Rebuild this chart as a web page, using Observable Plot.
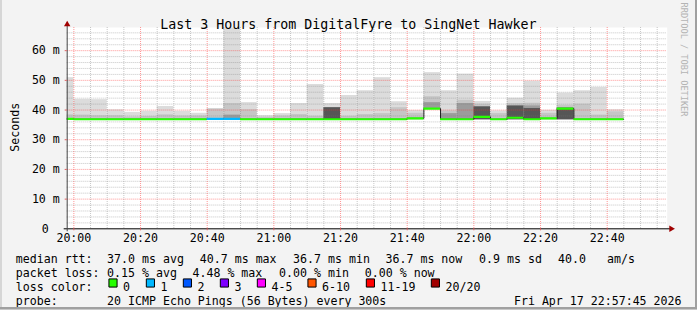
<!DOCTYPE html>
<html><head><meta charset="utf-8">
<script src="https://cdn.jsdelivr.net/npm/d3@7"></script>
<script src="https://cdn.jsdelivr.net/npm/@observablehq/plot@0.6"></script>
<style>
html,body{margin:0;padding:0;background:#f3f3f3;}
#wrap{position:relative;width:697px;height:310px;background:#f3f3f3;overflow:hidden;}
#wrap svg{display:block;}
.edge{position:absolute;}
</style></head><body><div id="wrap"></div>
<script>
// ---- data (ms) ----
const title = "Last 3 Hours from DigitalFyre to SingNet Hawker";
const day = "2026-04-17";
const starts = ["19:55","20:00","20:05","20:10","20:15","20:20","20:25","20:30","20:35","20:40","20:45","20:50","20:55","21:00","21:05","21:10","21:15","21:20","21:25","21:30","21:35","21:40","21:45","21:50","21:55","22:00","22:05","22:10","22:15","22:20","22:25","22:30","22:35","22:40"];
const pingMax = [50.9,43.6,43.5,40.1,39.2,39.6,41.2,39.6,38.9,40.5,67.6,42.5,38.1,38.8,42.2,48.6,42.2,44.9,46.5,50.9,42.8,39.8,52.6,46.5,52.1,42.9,39.7,44.0,49.7,39.9,45.7,46.5,47.6,40.1];
const pingHi  = [38.4,38.3,38.1,38.1,37.6,37.8,38.4,38.0,38.0,40.3,42.2,40.1,37.5,38.0,38.5,37.9,40.8,37.9,38.5,38.8,40.8,38.9,44.5,39.7,43.3,42.0,38.8,42.2,42.3,38.9,41.6,42.0,38.3,39.4];
const pingMid = [null,null,null,null,null,null,null,null,null,null,38.3,null,null,null,null,null,null,null,null,null,null,null,42.5,38.8,42.2,null,null,null,41.4,null,null,null,null,null];
const pingDark= [null,null,null,null,null,null,null,null,null,null,null,null,null,null,null,null,40.8,null,null,null,null,null,null,null,null,41.1,null,41.4,40.5,null,40.7,null,null,null];
const pingMin = [36.7,36.7,36.7,36.7,36.7,36.7,36.7,36.7,36.7,36.7,36.7,36.7,36.7,36.7,36.7,36.7,36.7,36.7,36.7,36.7,36.7,36.7,40.3,36.7,36.7,36.7,36.7,36.7,36.7,36.7,36.7,36.7,36.7,36.7];
const median  = [37.0,36.9,36.9,36.9,36.9,36.9,36.9,36.9,36.9,37.0,37.0,36.9,36.9,36.9,36.9,36.9,36.9,36.9,36.9,36.9,36.9,37.2,40.5,36.9,36.9,37.7,36.9,37.4,36.9,37.2,40.5,36.9,36.9,36.9];
const lossCount = [0,0,0,0,0,0,0,0,0,1,1,0,0,0,0,0,0,0,0,0,0,0,0,0,0,0,0,0,0,0,0,0,0,0];
const lossLabels = ["0","1","2","3","4-5","6-10","11-19","20/20"];
const lossColors = ["#26ff00","#00b8ff","#0059ff","#7e00ff","#ff00ff","#ff5500","#ff0000","#a10000"];
const yTicks = [10,20,30,40,50,60];
const xTickLabels = ["20:00","20:20","20:40","21:00","21:20","21:40","22:00","22:20","22:40"];
const statLines = [
  ["median rtt:", "37.0 ms avg", "40.7 ms max", "36.7 ms min", "36.7 ms now", "0.9 ms sd", "40.0", "am/s"],
  ["packet loss:", "0.15 % avg", "4.48 % max", "0.00 % min", "0.00 % now"]
];
const probeText = "20 ICMP Echo Pings (56 Bytes) every 300s";
const stamp = "Fri Apr 17 22:57:45 2026";

// ---- build ----
const T = s => new Date(`${day}T${s}:00Z`);
const tStart = T("19:58"), tEnd = T("22:58");
const bucket = l => l===0?0:l===1?1:l===2?2:l===3?3:l<=5?4:l<=10?5:l<=19?6:7;
const bars = starts.map((s,i)=>({
  t0:T(s), t1:d3.utcMinute.offset(T(s),5),
  max:pingMax[i], hi:pingHi[i], mid:pingMid[i], dk:pingDark[i], min:pingMin[i],
  med:median[i], loss:lossCount[i]
}));
const stepPts = bars.map(b=>({t:b.t0, v:b.med})).concat([{t:bars[bars.length-1].t1, v:bars[bars.length-1].med}]);

const ML = 66.7, MT = 27, MR = 697-666.7, MB = 310-228.3;
const FONT = "DejaVu Sans Mono, monospace";
const minorY = d3.range(2, 68, 2).filter(v=>v%10!==0);
const majorX = xTickLabels.map(T);
const minorX = d3.utcMinute.every(5).range(tStart, tEnd).filter(d=>d.getUTCMinutes()%20!==0);

function txt(str, x, y, o={}) {
  return Plot.text([str], {frameAnchor:"top-left", dx:x-ML, dy:y-MT, text:d=>d,
    textAnchor:o.anchor||"start", fontSize:o.size||11.6, fill:o.fill||"#000",
    rotate:o.rotate||0, fontFamily:FONT});
}

const marks = [
  Plot.frame({fill:"white", stroke:null}),
  Plot.rectY(bars, {x1:"t0", x2:"t1", y1:"min", y2:"max", fill:"#dcdcdc", clip:true}),
  Plot.rectY(bars.filter(b=>b.hi!=null), {x1:"t0", x2:"t1", y1:"min", y2:"hi", fill:"#c6c6c6", clip:true}),
  Plot.rectY(bars.filter(b=>b.mid!=null), {x1:"t0", x2:"t1", y1:"min", y2:"mid", fill:"#9c9c9c", clip:true}),
  Plot.rectY(bars.filter(b=>b.dk!=null), {x1:"t0", x2:"t1", y1:"min", y2:"dk", fill:"#565656", clip:true}),
  // grid
  Plot.ruleY(minorY, {stroke:"#7a7a7a", strokeOpacity:0.42, strokeDasharray:"1,1"}),
  Plot.ruleX(minorX, {stroke:"#7a7a7a", strokeOpacity:0.42, strokeDasharray:"1,1"}),
  Plot.ruleY(yTicks, {stroke:"#ff3030", strokeOpacity:0.5, strokeDasharray:"1,1"}),
  Plot.ruleX(majorX, {stroke:"#ff3030", strokeOpacity:0.5, strokeDasharray:"1,1"}),
  // median
  Plot.line(stepPts, {x:"t", y:"v", curve:"step-after", stroke:"#202020", strokeWidth:1, clip:true}),
  Plot.ruleY(bars, {y:"med", x1:"t0", x2:"t1", stroke:d=>lossColors[bucket(d.loss)], strokeWidth:2.2, clip:true}),
  // axes
  Plot.ruleY([0], {stroke:"#000", insetLeft:-3, insetRight:-4}),
  Plot.ruleX([tStart], {stroke:"#444", insetTop:-3, insetBottom:-3}),
  Plot.dot([0], {frameAnchor:"top-left", dy:-3, symbol:"triangle", r:2.4, fill:"#a00000", stroke:null}),
  Plot.dot([0], {frameAnchor:"bottom-right", dx:4, symbol:"triangle", rotate:90, r:2.4, fill:"#a00000", stroke:null}),
  Plot.axisX({ticks:majorX, tickFormat:d3.utcFormat("%H:%M"), tickSize:2, tickPadding:3.2, stroke:"#e06060", fill:"#000", fontSize:11.6, fontFamily:FONT, label:null}),
  Plot.axisY({ticks:yTicks, tickFormat:d=>`${d} m`, tickSize:2, tickPadding:5.4, stroke:"#e06060", fill:"#000", fontSize:11.6, fontFamily:FONT, label:null}),
  Plot.axisY({ticks:[0], tickFormat:()=>"0", tickSize:0, tickPadding:18.5, fill:"#000", fontSize:11.6, fontFamily:FONT, label:null}),
  // texts
  txt(title, 347.8, 19.3, {anchor:"middle", size:13.3}),
  txt("Seconds", 10, 126.7, {anchor:"middle", rotate:-90}),
  txt("RRDTOOL / TOBI OETIKER", 687, 59, {anchor:"middle", rotate:90, size:8.6, fill:"#b4b4b4"}),
];
const line1X = [15.3, 106.6, 199.3, 292.6, 385, 478.6, 557.6, 606.6];
statLines[0].forEach((s,i)=>marks.push(txt(s, line1X[i], 254.3)));
const line2X = [15.3, 106.6, 192, 278.6, 364.3];
statLines[1].forEach((s,i)=>marks.push(txt(s, line2X[i], 268.3)));
marks.push(txt("loss color:", 15.3, 282.3));
const boxX = [108.3, 145.7, 182.7, 219.7, 256.7, 307.3, 365.7, 430.7];
lossLabels.forEach((l,i)=>{
  marks.push(Plot.dot([0], {frameAnchor:"top-left", dx:boxX[i]+4.2-ML, dy:282.5-MT, symbol:"square", r:4.6, fill:lossColors[i], stroke:"#000", strokeWidth:1}));
  marks.push(txt(l, boxX[i]+14.3, 282.3));
});
marks.push(txt("probe:", 15.3, 296));
marks.push(txt(probeText, 106.6, 296));
marks.push(txt(stamp, 681, 296, {anchor:"end"}));

const chart = Plot.plot({
  width:697, height:310,
  marginLeft:ML, marginRight:MR, marginTop:MT, marginBottom:MB,
  style:{background:"transparent", fontFamily:FONT, fontSize:"11.6px", overflow:"visible"},
  x:{type:"utc", domain:[tStart, tEnd], label:null},
  y:{domain:[0, 67.8], label:null},
  marks
});
const wrap = document.getElementById("wrap");
wrap.appendChild(chart);
const edges = [
  {left:"0px", top:"0px", width:"2px", height:"310px", background:"#d6d6d6"},
  {left:"695px", top:"0px", width:"2px", height:"310px", background:"#a0a0a0"},
  {left:"0px", top:"307px", width:"697px", height:"2px", background:"#a0a0a0"},
  {left:"0px", top:"309px", width:"697px", height:"1px", background:"#c8c8c8"}
];
edges.forEach(e=>{const d=document.createElement("div"); d.className="edge"; Object.assign(d.style,e); wrap.appendChild(d);});
</script></body></html>
